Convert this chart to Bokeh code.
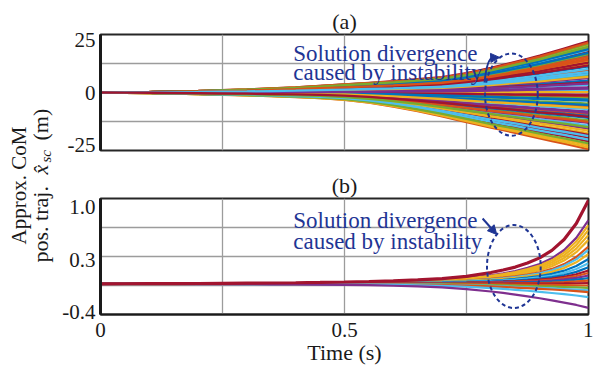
import math
from bokeh.plotting import figure
from bokeh.layouts import row, column
from bokeh.models import FixedTicker, Arrow, NormalHead, ColumnDataSource
from bokeh.embed import file_html
from bokeh.resources import INLINE
from bokeh.core.properties import value

# ---------------- data ----------------
time_s = [0.0, 0.05, 0.1, 0.15, 0.2, 0.25, 0.3, 0.35, 0.4, 0.45, 0.5,
          0.55, 0.6, 0.65, 0.7, 0.75, 0.8, 0.825, 0.85, 0.875, 0.9,
          0.925, 0.95, 0.975, 1.0]

# fraction of the final deviation reached along time (read from the envelopes)
shape_a_up = [0, .005, .01, .02, .03, .045, .06, .08, .10, .13, .16,
              .19, .22, .26, .30, .38, .48, .54, .60, .66, .72,
              .79, .86, .93, 1.0]
shape_a_down = [0, .005, .01, .02, .03, .04, .05, .065, .08, .10, .13,
                .18, .25, .33, .42, .52, .62, .665, .71, .76, .81,
                .855, .90, .95, 1.0]
start_a = 0.0
ends_a = [5.7, -27.2, 15.0, -9.2, 21.4, 1.2, 24.5,
          -3.9, 10.6, -19.5, 17.7, -13.4, 3.7, -23.4,
          12.5, -6.8, 22.7, -0.9, 8.1, -15.9, 19.5,
          -11.0, 16.2, -25.3, 2.5, -5.3, 20.4, -21.6,
          9.4, -2.1, 13.7, -17.3, 23.3, -8.0, 4.8,
          -12.2, 17.1, -26.3, 6.9, -2.9, 11.3, -20.3,
          20.8, -10.1, 0.2, -14.6, 18.4, -22.6, 14.3,
          -6.0, 23.9, -18.3, 4.3, -24.4, 9.9, -1.4,
          19.0, -14.1, 7.5, -9.7, 22.0, -20.9, 13.0,
          -3.4, 15.6, -7.4, 1.9, -16.6, 8.8, -11.7]

shape_b_up = [0, .001, .002, .003, .004, .006, .008, .010, .013, .017, .022,
              .028, .036, .047, .063, .09, .135, .165, .20, .25, .31,
              .40, .53, .72, 1.0]
shape_b_down = [0, .002, .004, .006, .009, .012, .016, .02, .025, .032, .04,
                .055, .08, .11, .15, .22, .32, .38, .45, .52, .60,
                .69, .78, .88, 1.0]
start_b = -0.018
ends_b = [0.833, 0.766, 0.700, 0.634, 0.568, 0.479, 0.435, 0.380, 0.313,
          0.258, 0.203, 0.159, 0.126, 0.093, 0.059, 0.026, -0.007, -0.040,
          -0.073, -0.106, -0.128, -0.195, -0.338, 1.098]

yticks_a = [-25, 0, 25]
yticks_b = [-0.4, 0.3, 1.0]
xticks = [0, 0.5, 1.0]

# ---------------- styles ----------------
MBLUE, MORANGE, MYELLOW, MPURPLE = "#0072BD", "#D95319", "#EDB120", "#7E2F8E"
MGREEN, MLBLUE, MRED = "#77AC30", "#4DBEEE", "#A2142F"
cycle = [MBLUE, MORANGE, MYELLOW, MPURPLE, MGREEN, MLBLUE, MRED]
colors_b = [MPURPLE, MYELLOW, MYELLOW, MYELLOW, MYELLOW, MORANGE, MLBLUE,
            MYELLOW, MBLUE, MLBLUE, MBLUE, MRED, MORANGE, MPURPLE, MBLUE,
            MORANGE, MRED, MORANGE, MGREEN, MLBLUE, MORANGE, MLBLUE, MPURPLE, MRED]
widths_b = [2.2] * (len(ends_b) - 1) + [3.2]

FONT = "Liberation Serif"
ANN = "#1f3594"
GRID = "#9c9c9c"
FRAME = "#262626"
TXT = "#1a1a1a"


def trajectories(ends, start, up, down):
    ys = []
    for e in ends:
        g = up if e >= start else down
        ys.append([start + (e - start) * gi for gi in g])
    return ys


def quarters(lo, hi):
    return [lo + (hi - lo) * k / 4 for k in range(1, 4)]


def style(p, yticks, ylo, yhi, title):
    p.outline_line_color = FRAME
    p.outline_line_width = 2
    p.xgrid.ticker = FixedTicker(ticks=[0.25, 0.5, 0.75])
    p.ygrid.ticker = FixedTicker(ticks=quarters(ylo, yhi))
    for g in (p.xgrid, p.ygrid):
        g.grid_line_color = GRID
        g.grid_line_width = 1.3
    ax = p.yaxis[0]
    ax.ticker = FixedTicker(ticks=yticks)
    ax.major_label_overrides = {t: (f"{t:.1f}" if isinstance(t, float) else str(t)) for t in yticks}
    ax.axis_line_width = 3
    ax.axis_line_color = TXT
    ax.major_tick_in = 0
    ax.major_tick_out = 0
    ax.minor_tick_line_color = None
    ax.major_label_text_font = FONT
    ax.major_label_text_font_size = "21px"
    ax.major_label_text_color = TXT
    ax.major_label_standoff = 5
    p.title.text = title
    p.title.align = "center"
    p.title.text_font = FONT
    p.title.text_font_size = "22px"
    p.title.text_font_style = "normal"
    p.title.text_color = TXT
    p.title.standoff = 2


# ---------------- panel (a) ----------------
ylo_a, yhi_a = -27.8, 27.8
fa = figure(width=537, height=162, x_range=(0, 1), y_range=(ylo_a, yhi_a),
            output_backend="svg", toolbar_location=None,
            min_border_left=44, min_border_right=5, min_border_top=34, min_border_bottom=12)
style(fa, yticks_a, ylo_a, yhi_a, "(a)")
fa.xaxis.visible = False

src_a = ColumnDataSource(dict(
    xs=[time_s] * len(ends_a),
    ys=trajectories(ends_a, start_a, shape_a_up, shape_a_down),
    color=[cycle[i % 7] for i in range(len(ends_a))]))
fa.multi_line("xs", "ys", line_color="color", line_width=2.3, source=src_a)

# ---------------- panel (b) ----------------
ylo_b, yhi_b = -0.427, 1.12
fb = figure(width=537, height=209, x_range=(0, 1), y_range=(ylo_b, yhi_b),
            output_backend="svg", toolbar_location=None,
            min_border_left=44, min_border_right=5, min_border_top=36, min_border_bottom=57)
style(fb, yticks_b, ylo_b, yhi_b, "(b)")
xa = fb.xaxis[0]
xa.ticker = FixedTicker(ticks=xticks)
xa.major_label_overrides = {0: "0", 0.5: "0.5", 1.0: "1"}
xa.axis_line_width = 2
xa.axis_line_color = TXT
xa.major_tick_in = 0
xa.major_tick_out = 0
xa.minor_tick_line_color = None
xa.major_label_text_font = FONT
xa.major_label_text_font_size = "21px"
xa.major_label_text_color = TXT
xa.major_label_standoff = 8
xa.axis_label = "Time (s)"
xa.axis_label_text_font = FONT
xa.axis_label_text_font_size = "22px"
xa.axis_label_text_font_style = "normal"
xa.axis_label_text_color = TXT
xa.axis_label_standoff = 0

src_b = ColumnDataSource(dict(
    xs=[time_s] * len(ends_b),
    ys=trajectories(ends_b, start_b, shape_b_up, shape_b_down),
    color=colors_b, width=widths_b))
fb.multi_line("xs", "ys", line_color="color", line_width="width", source=src_b)

# ---------------- annotations ----------------
ann_lines = ["Solution divergence", "caused by instability"]
for p, x0, ys_txt, ell, arr in [
        (fa, 0.395, [18.75, 9.6], (0.842, -1.0, 0.108, 39.4),
         (0.800, 16.6, 0.818, 16.8)),
        (fb, 0.395, [0.827, 0.547], (0.847, 0.213, 0.11, 1.107),
         (0.783, 0.853, 0.812, 0.64))]:
    p.text(x=[x0, x0], y=ys_txt, text=ann_lines, text_font=value(FONT),
           text_font_size="23px", text_color=ANN, text_align="left",
           text_baseline="alphabetic")
    p.ellipse(x=[ell[0]], y=[ell[1]], width=[ell[2]], height=[ell[3]],
              fill_color=None, line_color=ANN, line_width=2, line_dash="4 3")
    p.add_layout(Arrow(end=NormalHead(size=9, fill_color=ANN, line_color=ANN),
                       x_start=arr[0], y_start=arr[1], x_end=arr[2], y_end=arr[3],
                       line_color=ANN, line_width=2))

# curved tail of the arrow in (a)
fa.quadratic(x0=[0.787], y0=[4.8], x1=[0.804], y1=[16.65], cx=[0.792], cy=[16.4],
             line_color=ANN, line_width=2)

# ---------------- y label (shared by both panels) ----------------
fl = figure(width=56, height=371, x_range=(0, 56), y_range=(0, 371),
            output_backend="svg", toolbar_location=None, min_border=0)
fl.axis.visible = False
fl.grid.visible = False
fl.outline_line_color = None
rot = math.pi / 2
common = dict(angle=rot, text_font=value(FONT), text_baseline="alphabetic", text_color=TXT)
fl.text(x=[18], y=[186], text=["Approx. CoM"], text_font_size="21px",
        text_align="center", **common)
fl.text(x=[40], y=[109], text=["pos. traj."], text_font_size="22px",
        text_align="left", **common)
fl.text(x=[40], y=[197], text=["x\u0302"], text_font_size="22px",
        text_font_style="italic", text_align="left", **common)
fl.text(x=[45], y=[209], text=["sc"], text_font_size="15px",
        text_font_style="italic", text_align="left", **common)
fl.text(x=[40], y=[231], text=["(m)"], text_font_size="22px",
        text_align="left", **common)

layout = row(fl, column(fa, fb))
open("out.html", "w").write(file_html(layout, INLINE))
